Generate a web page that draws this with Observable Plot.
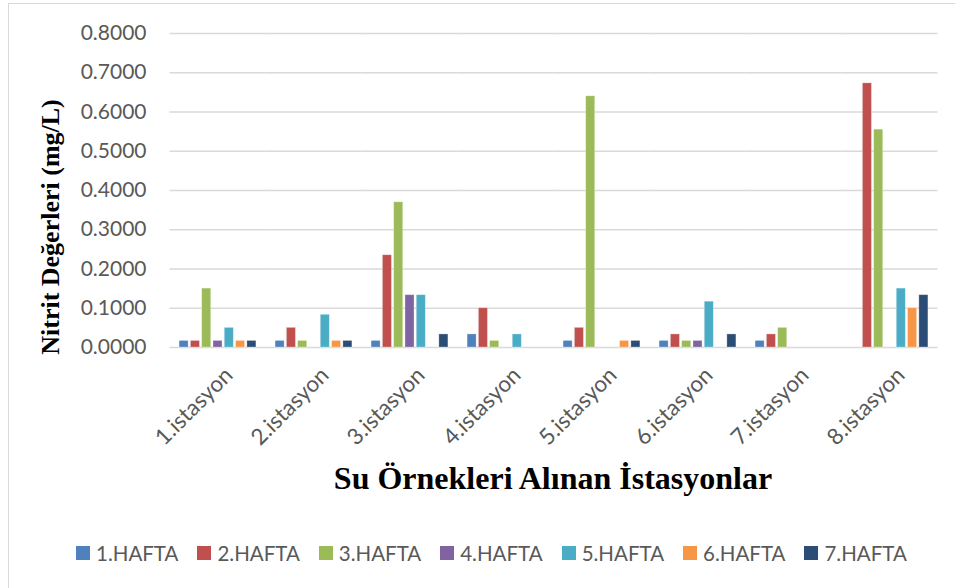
<!DOCTYPE html>
<html>
<head>
<meta charset="utf-8">
<script src="https://cdn.jsdelivr.net/npm/d3@7"></script>
<script src="https://cdn.jsdelivr.net/npm/@observablehq/plot@0.6"></script>
<style>
  html, body { margin: 0; padding: 0; background: #fff; }
  #wrap { position: relative; width: 955px; height: 588px; overflow: hidden; background: #fff; }
  #frame { position: absolute; left: 8px; top: 3px; width: 1000px; height: 700px; border: 1.5px solid #d9d9d9; box-sizing: border-box; }
  #chart { position: absolute; left: 0; top: 0; }
  #ytitle { position: absolute; left: 51px; top: 227px; transform: translate(-50%, -50%) rotate(-90deg);
            font: bold 26px "Liberation Serif", "Times New Roman", serif; color: #000; white-space: nowrap; }
  #xtitle { position: absolute; left: 553px; top: 462px; transform: translateX(-50%);
            font: bold 32px "Liberation Serif", "Times New Roman", serif; color: #000; white-space: nowrap; line-height: 32px; }
  #legend { position: absolute; left: 76px; top: 541px; display: flex; gap: 19px; align-items: center;
            font: 20.5px Lato, sans-serif; color: #595959; }
  .item { display: flex; align-items: center; gap: 6px; }
  .sw { width: 14px; height: 14px; display: inline-block; }
</style>
</head>
<body>
<div id="wrap">
  <div id="frame"></div>
  <div id="chart"></div>
  <div id="ytitle">Nitrit Değerleri (mg/L)</div>
  <div id="xtitle">Su Örnekleri Alınan İstasyonlar</div>
  <div id="legend"></div>
</div>
<script>
const stations = ["1.istasyon","2.istasyon","3.istasyon","4.istasyon","5.istasyon","6.istasyon","7.istasyon","8.istasyon"];
const weeks = ["1.HAFTA","2.HAFTA","3.HAFTA","4.HAFTA","5.HAFTA","6.HAFTA","7.HAFTA"];
const colors = ["#4F81BD","#C0504D","#9BBB59","#8064A2","#4BACC6","#F79646","#2C4D75"];
const yTicks = [0, 0.1, 0.2, 0.3, 0.4, 0.5, 0.6, 0.7, 0.8];

const hafta1 = [0.0167, 0.0167, 0.0167, 0.0333, 0.0167, 0.0167, 0.0167, 0];
const hafta2 = [0.0167, 0.0500, 0.2350, 0.1000, 0.0500, 0.0333, 0.0333, 0.6730];
const hafta3 = [0.1500, 0.0167, 0.3700, 0.0167, 0.6400, 0.0167, 0.0500, 0.5550];
const hafta4 = [0.0167, 0, 0.1333, 0, 0, 0.0167, 0, 0];
const hafta5 = [0.0500, 0.0833, 0.1333, 0.0333, 0, 0.1167, 0, 0.1500];
const hafta6 = [0.0167, 0.0167, 0, 0, 0.0167, 0, 0, 0.1000];
const hafta7 = [0.0167, 0.0167, 0.0333, 0, 0.0167, 0.0333, 0, 0.1333];
const series = [hafta1, hafta2, hafta3, hafta4, hafta5, hafta6, hafta7];

const data = [];
stations.forEach((s, i) => {
  weeks.forEach((w, j) => {
    data.push({station: s, week: w, value: series[j][i]});
  });
});

const chart = Plot.plot({
  width: 955,
  height: 510,
  marginLeft: 169.5,
  marginRight: 17.5,
  marginTop: 33,
  marginBottom: 163,
  style: {background: "transparent", overflow: "visible"},
  fx: {domain: stations, padding: 0, round: false, label: null, axis: null},
  x: {domain: weeks, paddingInner: 0.2, paddingOuter: 0.85, round: false, axis: null},
  y: {domain: [0, 0.8], axis: null},
  color: {domain: weeks, range: colors},
  marks: [
    Plot.gridY(yTicks, {stroke: "#d9d9d9", strokeOpacity: 1, strokeWidth: 1.5}),
    Plot.barY(data, {fx: "station", x: "week", y: "value", fill: "week", stroke: "#ffffff", strokeOpacity: 0.35, strokeWidth: 0.8}),
    Plot.axisY({ticks: yTicks, tickFormat: d3.format(".4f"), tickSize: 0, tickPadding: 23.5,
                fontSize: 21, fontFamily: "Lato, sans-serif", fill: "#595959", label: null}),
    Plot.axisFx({anchor: "bottom", tickRotate: -45, tickSize: 0, tickPadding: 24, dx: 11, fontSize: 22.5,
                 fontFamily: "Lato, sans-serif", fill: "#595959", label: null})
  ]
});
document.getElementById("chart").appendChild(chart);

const legend = document.getElementById("legend");
weeks.forEach((w, j) => {
  const it = document.createElement("div");
  it.className = "item";
  const sw = document.createElement("span");
  sw.className = "sw";
  sw.style.background = colors[j];
  const tx = document.createElement("span");
  tx.textContent = w;
  it.appendChild(sw);
  it.appendChild(tx);
  legend.appendChild(it);
});
</script>
</body>
</html>
